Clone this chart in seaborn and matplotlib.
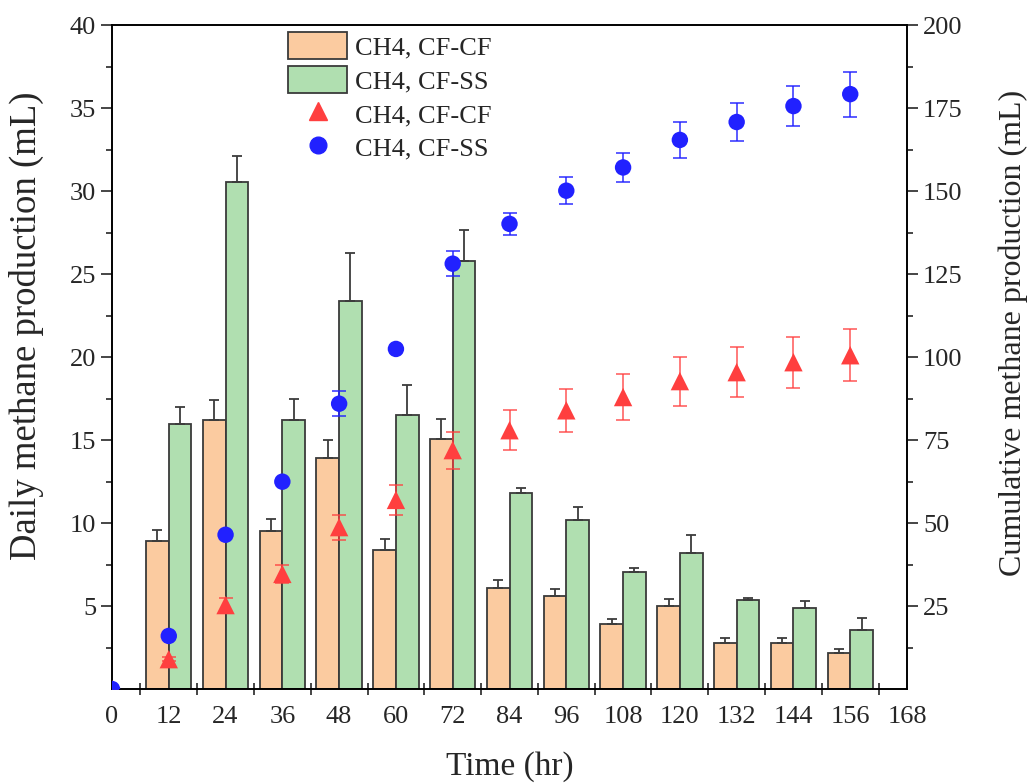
import numpy as np
import pandas as pd
import matplotlib
matplotlib.use("Agg")
import matplotlib.pyplot as plt
from matplotlib.patches import Patch
from matplotlib.lines import Line2D
import seaborn as sns

# Sampling times (hr)
hours = [12, 24, 36, 48, 60, 72, 84, 96, 108, 120, 132, 144, 156]

# Daily methane production (mL) and standard deviations
daily_cfcf = [8.9, 16.2, 9.5, 13.9, 8.4, 15.1, 6.1, 5.6, 3.9, 5.0, 2.8, 2.8, 2.2]
daily_cfcf_err = [0.7, 1.25, 0.75, 1.1, 0.65, 1.15, 0.5, 0.45, 0.35, 0.4, 0.25, 0.25, 0.2]
daily_cfss = [16.0, 30.55, 16.2, 23.4, 16.5, 25.8, 11.8, 10.2, 7.05, 8.2, 5.35, 4.9, 3.55]
daily_cfss_err = [1.0, 1.6, 1.3, 2.9, 1.8, 1.85, 0.3, 0.75, 0.25, 1.1, 0.12, 0.4, 0.75]

# Cumulative methane production (mL), including the start at t = 0
cum_hours = [0, 12, 24, 36, 48, 60, 72, 84, 96, 108, 120, 132, 144, 156]
cum_cfcf = [0.0, 9.0, 25.3, 34.7, 48.8, 57.0, 72.0, 78.0, 84.0, 88.0, 92.8, 95.5, 98.5, 100.6]
cum_cfcf_err = [0.0, 0.6, 2.0, 2.8, 3.8, 4.5, 5.6, 6.0, 6.5, 6.8, 7.4, 7.5, 7.7, 7.8]
cum_cfss = [0.0, 16.0, 46.5, 62.5, 86.0, 102.5, 128.2, 140.2, 150.2, 157.2, 165.5, 170.9, 175.7, 179.3]
cum_cfss_err = [0.0, 0.9, 0.7, 0.7, 3.7, 0.8, 3.8, 3.3, 4.1, 4.4, 5.5, 5.6, 6.0, 6.8]

series_labels = ["CH4, CF-CF", "CH4, CF-SS"]
x_tick_labels = [str(v) for v in range(0, 169, 12)]

bar_colors = ["#FBCBA0", "#B0DFB0"]
red = "#FF3F3F"
blue = "#2121FF"

sns.set_theme(style="ticks")
plt.rcParams["font.family"] = ["Liberation Serif", "DejaVu Serif"]

fig = plt.figure(figsize=(10.34, 7.83), dpi=100)
ax = fig.add_axes([0.1083, 0.12, 0.7689, 0.8475])

df = pd.DataFrame({
    "hour": hours * 2,
    "daily": daily_cfcf + daily_cfss,
    "reactor": [series_labels[0]] * len(hours) + [series_labels[1]] * len(hours),
})

sns.barplot(data=df, x="hour", y="daily", hue="reactor", native_scale=True,
            palette=bar_colors, saturation=1, errorbar=None, width=0.8, dodge=True,
            edgecolor="#3a3a3a", linewidth=1.3, legend=False, ax=ax, zorder=2)

# one-sided (upper) error bars placed on the centre of each dodged bar
for bars, err in zip(ax.containers, [daily_cfcf_err, daily_cfss_err]):
    xs = [b.get_x() + b.get_width() / 2 for b in bars]
    ys = [b.get_height() for b in bars]
    ax.errorbar(xs, ys, yerr=[np.zeros(len(err)), err], fmt="none",
                ecolor="#3c3c3c", elinewidth=1.3, capsize=3.4, capthick=1.3, zorder=3)

ax.set_xlim(0, 168)
ax.set_ylim(0, 40)
ax.set_xticks(range(0, 169, 12))
ax.set_xticklabels(x_tick_labels)
ax.set_xticks(np.arange(6, 163, 12), minor=True)
ax.tick_params(axis="x", which="major", length=0, labelsize=19, pad=12)
ax.tick_params(axis="x", which="minor", direction="inout", length=9, width=1.2)
ax.set_yticks(np.arange(5, 41, 5))
ax.set_yticks(np.arange(2.5, 40, 5), minor=True)
ax.tick_params(axis="y", which="major", direction="out", length=8, width=1.2, labelsize=19)
ax.tick_params(axis="y", which="minor", direction="out", length=4.5, width=1.2)
ax.set_xlabel("Time (hr)", fontsize=24, labelpad=17)
ax.set_ylabel("Daily methane production (mL)", fontsize=26.5)
ax.yaxis.set_label_coords(-0.086, 0.548)
for s in ax.spines.values():
    s.set_linewidth(1.2)
    s.set_color("black")
    s.set_visible(True)

# cumulative production on the secondary axis
ax2 = ax.twinx()
sns.scatterplot(x=cum_hours, y=cum_cfcf, marker="^", color=red, s=175,
                edgecolor="none", ax=ax2, zorder=4)
sns.scatterplot(x=cum_hours, y=cum_cfss, marker="o", color=blue, s=140,
                edgecolor="none", ax=ax2, zorder=4)
ax2.errorbar(cum_hours, cum_cfcf, yerr=cum_cfcf_err, fmt="none", ecolor=red,
             alpha=0.75, elinewidth=1.3, capsize=5, capthick=1.3, zorder=3)
ax2.errorbar(cum_hours, cum_cfss, yerr=cum_cfss_err, fmt="none", ecolor=blue,
             alpha=0.8, elinewidth=1.3, capsize=5, capthick=1.3, zorder=3)
ax2.set_ylim(0, 200)
ax2.set_yticks(np.arange(25, 201, 25))
ax2.set_yticks(np.arange(12.5, 200, 25), minor=True)
ax2.tick_params(axis="y", which="major", direction="out", length=8, width=1.2, labelsize=19)
ax2.tick_params(axis="y", which="minor", direction="out", length=4.5, width=1.2)
ax2.set_ylabel("Cumulative methane production (mL)", fontsize=23)
ax2.yaxis.set_label_coords(1.115, 0.537)
for s in ax2.spines.values():
    s.set_linewidth(1.2)
    s.set_color("black")

handles = [
    Patch(facecolor=bar_colors[0], edgecolor="#3a3a3a", linewidth=1.3),
    Patch(facecolor=bar_colors[1], edgecolor="#3a3a3a", linewidth=1.3),
    Line2D([], [], linestyle="none", marker="^", color=red, markersize=13),
    Line2D([], [], linestyle="none", marker="o", color=blue, markersize=12),
]
ax2.legend(handles, series_labels * 2, loc="upper left",
           bbox_to_anchor=(0.218, 0.994), frameon=False, fontsize=19,
           handlelength=2.25, handleheight=1.2, handletextpad=0.3,
           labelspacing=0.24, borderpad=0.1, borderaxespad=0)

fig.savefig("out.png", dpi=100)
